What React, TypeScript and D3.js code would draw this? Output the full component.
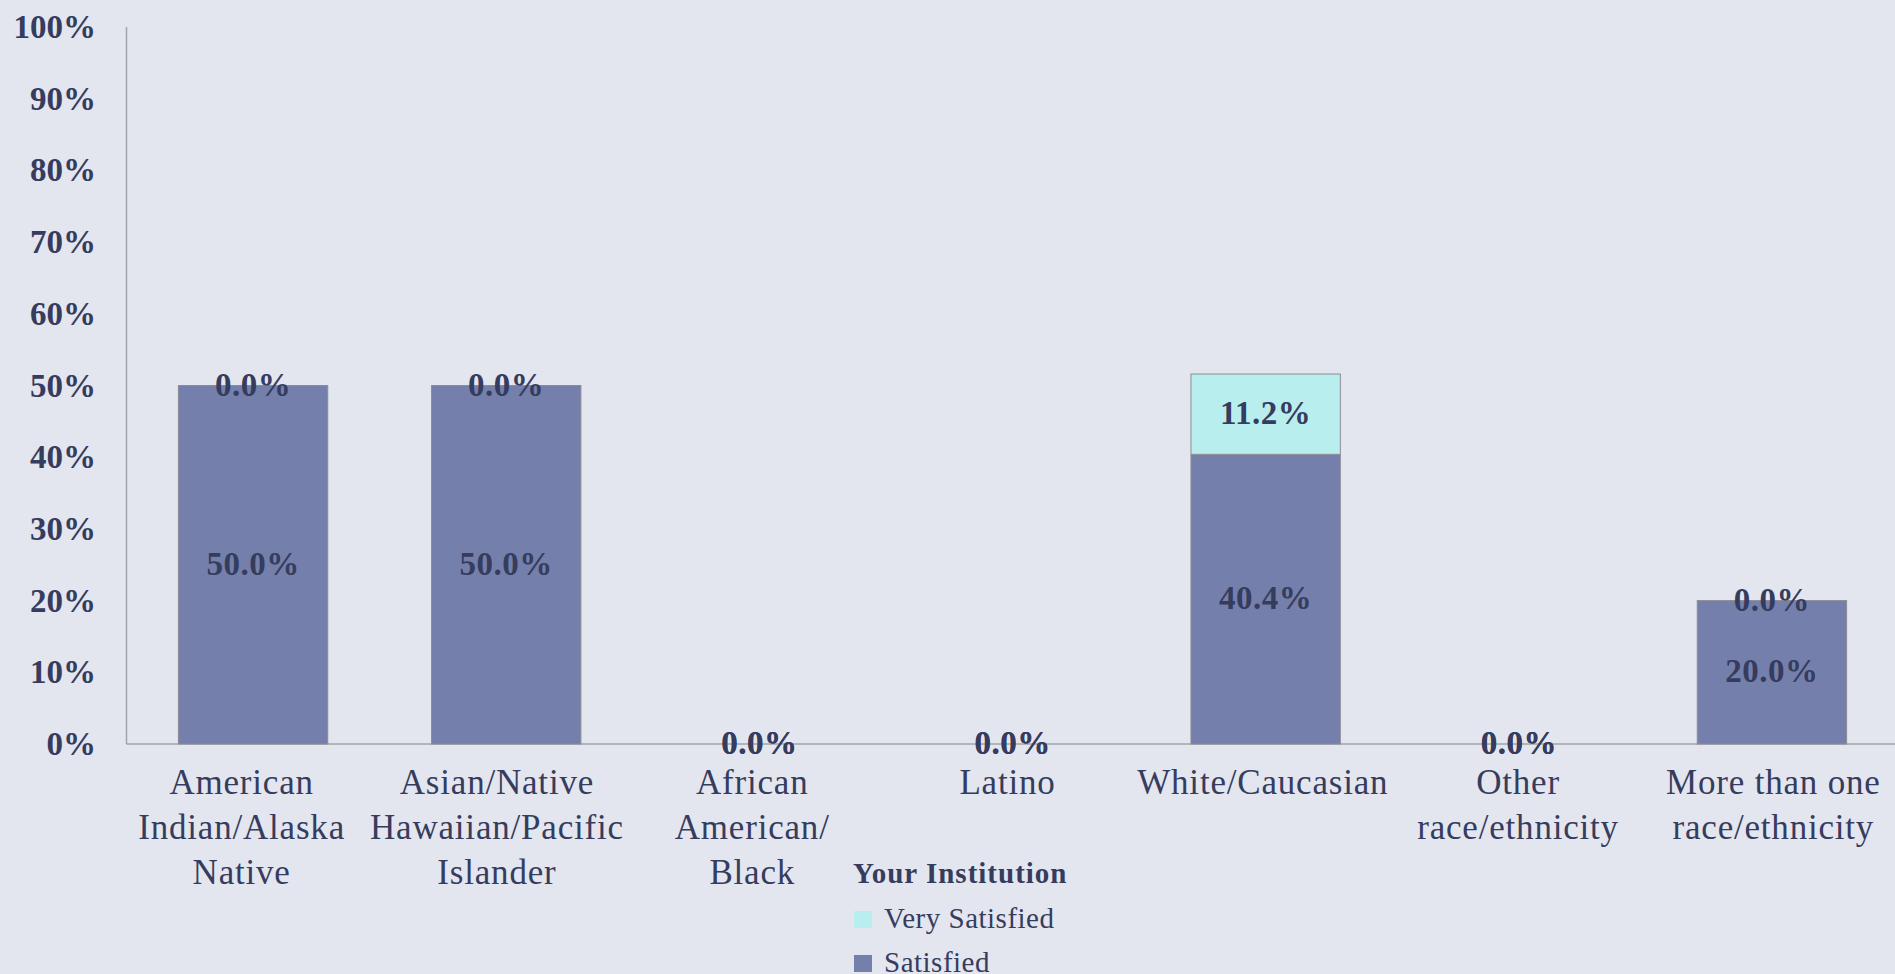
import React from "react";
import * as d3 from "d3";

const categories: string[][] = [
  ["American", "Indian/Alaska", "Native"],
  ["Asian/Native", "Hawaiian/Pacific", "Islander"],
  ["African", "American/", "Black"],
  ["Latino"],
  ["White/Caucasian"],
  ["Other", "race/ethnicity"],
  ["More than one", "race/ethnicity"],
];
const satisfied: number[] = [50.0, 50.0, 0.0, 0.0, 40.4, 0.0, 20.0];
const verySatisfied: number[] = [0.0, 0.0, 0.0, 0.0, 11.2, 0.0, 0.0];
const yTicks: number[] = [0, 10, 20, 30, 40, 50, 60, 70, 80, 90, 100];
const legendTitle = "Your Institution";
const seriesNames = ["Very Satisfied", "Satisfied"];

const W = 1895;
const H = 974;
const BG = "#e3e6ee";
const TEXT = "#363c5e";
const C_SAT = "#7480ab";
const C_VSAT = "#b8eeee";
const FONT = "'Liberation Serif', 'Times New Roman', serif";

export default function App() {
  const x = d3
    .scaleBand<number>()
    .domain(categories.map((_, i) => i))
    .range([126.5, 1898.5])
    .paddingInner(0.41)
    .paddingOuter(0.205);
  const xLabel = d3
    .scaleBand<number>()
    .domain(categories.map((_, i) => i))
    .range([114, 1901]);
  const y = d3.scaleLinear().domain([0, 100]).range([744, 27]);
  const fmt = (v: number) => v.toFixed(1) + "%";

  const stacks = categories.map((_, i) => {
    const s0 = 0;
    const s1 = satisfied[i];
    const v1 = s1 + verySatisfied[i];
    return { i, sat: [s0, s1], vsat: [s1, v1] };
  });

  return (
    <svg
      width={W}
      height={H}
      style={{ position: "fixed", left: 0, top: 0, background: BG, fontFamily: FONT }}
    >
      <rect x={0} y={0} width={W} height={H} fill={BG} />
      {/* axes */}
      <line x1={126.5} x2={126.5} y1={y(100)} y2={y(0)} stroke="#a3a3a8" strokeWidth={1.5} />
      <line x1={126.5} x2={W} y1={y(0)} y2={y(0)} stroke="#a3a3a8" strokeWidth={1.5} />
      {yTicks.map((t) => (
        <text
          key={t}
          x={96}
          y={y(t)}
          textAnchor="end"
          dominantBaseline="central"
          fontSize={33}
          fontWeight="bold"
          fill={TEXT}
        >
          {t + "%"}
        </text>
      ))}
      {/* bars */}
      {stacks.map((s) => {
        const bx = x(s.i)!;
        const bw = x.bandwidth();
        return (
          <g key={s.i}>
            {s.sat[1] > s.sat[0] && (
              <rect
                x={bx}
                y={y(s.sat[1])}
                width={bw}
                height={y(s.sat[0]) - y(s.sat[1])}
                fill={C_SAT}
                stroke="#8c8c94"
                strokeWidth={1}
              />
            )}
            {s.vsat[1] > s.vsat[0] && (
              <rect
                x={bx}
                y={y(s.vsat[1])}
                width={bw}
                height={y(s.vsat[0]) - y(s.vsat[1])}
                fill={C_VSAT}
                stroke="#8c8c94"
                strokeWidth={1}
              />
            )}
          </g>
        );
      })}
      {/* data labels */}
      {stacks.map((s) => {
        const cx = x(s.i)! + x.bandwidth() / 2;
        return (
          <g
            key={"l" + s.i}
            fontSize={33}
            fontWeight="bold"
            fill={TEXT}
            textAnchor="middle"
            letterSpacing={0.5}
          >
            <text x={cx} y={y((s.sat[0] + s.sat[1]) / 2) - 1} dominantBaseline="central">
              {fmt(satisfied[s.i])}
            </text>
            <text x={cx} y={y((s.vsat[0] + s.vsat[1]) / 2) - 1} dominantBaseline="central">
              {fmt(verySatisfied[s.i])}
            </text>
          </g>
        );
      })}
      {/* category labels */}
      {categories.map((lines, i) => {
        const cx = xLabel(i)! + xLabel.bandwidth() / 2;
        return (
          <text
            key={"c" + i}
            x={cx}
            textAnchor="middle"
            fontSize={35}
            letterSpacing={0.8}
            fill={TEXT}
          >
            {lines.map((ln, j) => (
              <tspan key={j} x={cx} y={794 + j * 45}>
                {ln}
              </tspan>
            ))}
          </text>
        );
      })}
      {/* legend */}
      <g fill={TEXT}>
        <text x={853} y={883} fontSize={29} fontWeight="bold" letterSpacing={1}>
          {legendTitle}
        </text>
        {seriesNames.map((n, k) => (
          <g key={n}>
            <rect x={854} y={911 + k * 44} width={18} height={17} fill={k === 0 ? C_VSAT : C_SAT} />
            <text x={884} y={928 + k * 44} fontSize={29} letterSpacing={0.5}>
              {n}
            </text>
          </g>
        ))}
      </g>
    </svg>
  );
}
